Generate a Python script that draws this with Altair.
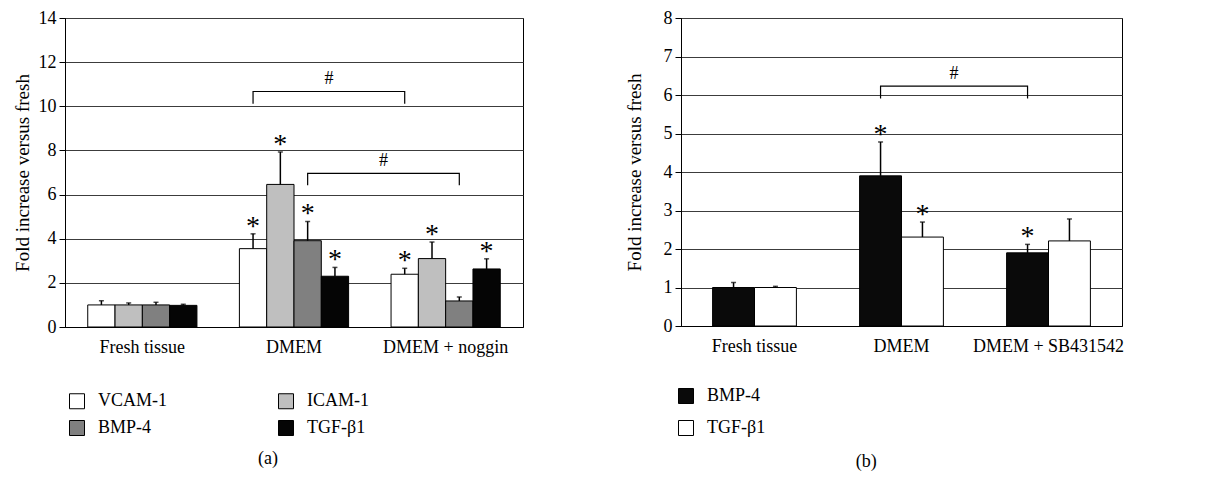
import altair as alt
import pandas as pd

FONT = "Liberation Serif"
YTITLE = "Fold increase versus fresh"

# ---------------- Panel (a) data ----------------
groups_a = ["Fresh tissue", "DMEM", "DMEM + noggin"]
markers_a = ["VCAM-1", "ICAM-1", "BMP-4", "TGF-β1"]
colors_a = ["#ffffff", "#bfbfbf", "#808080", "#050505"]
vcam_mean = [1.00, 3.55, 2.39]
vcam_err = [0.19, 0.67, 0.27]
vcam_sig = [False, True, True]
icam_mean = [1.00, 6.46, 3.10]
icam_err = [0.09, 1.47, 0.75]
icam_sig = [False, True, True]
bmp_mean_a = [1.00, 3.91, 1.18]
bmp_err_a = [0.12, 0.87, 0.18]
bmp_sig_a = [False, True, False]
tgf_mean_a = [0.98, 2.30, 2.63]
tgf_err_a = [0.05, 0.40, 0.46]
tgf_sig_a = [False, True, True]
yticks_a = [0, 2, 4, 6, 8, 10, 12, 14]
# brackets: (from group, from marker, to group, to marker, top, leg end)
brackets_a = [
    ("DMEM", "VCAM-1", "DMEM + noggin", "VCAM-1", 10.67, 10.12),
    ("DMEM", "BMP-4", "DMEM + noggin", "BMP-4", 6.96, 6.42),
]

# ---------------- Panel (b) data ----------------
groups_b = ["Fresh tissue", "DMEM", "DMEM + SB431542"]
markers_b = ["BMP-4", "TGF-β1"]
colors_b = ["#0a0a0a", "#ffffff"]
bmp_mean_b = [1.00, 3.90, 1.90]
bmp_err_b = [0.13, 0.88, 0.22]
bmp_sig_b = [False, True, True]
tgf_mean_b = [1.00, 2.31, 2.21]
tgf_err_b = [0.03, 0.39, 0.57]
tgf_sig_b = [False, True, False]
yticks_b = [0, 1, 2, 3, 4, 5, 6, 7, 8]
brackets_b = [
    ("DMEM", "BMP-4", "DMEM + SB431542", "BMP-4", 6.23, 5.91),
]


def make_df(groups, markers, means, errs, sigs):
    rows = []
    for m, mv, ev, sv in zip(markers, means, errs, sigs):
        for g, a, e, s in zip(groups, mv, ev, sv):
            rows.append({"group": g, "marker": m, "mean": a, "hi": a + e, "sig": s})
    return pd.DataFrame(rows)


def make_brackets(brs):
    pts, labels = [], []
    for i, (g1, m1, g2, m2, top, leg) in enumerate(brs):
        pts += [
            {"id": i, "k": 0, "group": g1, "marker": m1, "yv": leg},
            {"id": i, "k": 1, "group": g1, "marker": m1, "yv": top},
            {"id": i, "k": 2, "group": g2, "marker": m2, "yv": top},
            {"id": i, "k": 3, "group": g2, "marker": m2, "yv": leg},
        ]
        labels.append({"id": i, "group": g1, "marker": m1, "yv": top})
    return pd.DataFrame(pts), pd.DataFrame(labels)


def panel(df, brdf, brlab, groups, markers, colors, ymax, yticks, width, height,
          p_in, p_out, legend_cols, legend_dir, legend_x, legend_y, col_pad, row_pad,
          caption, cap_offset, cap_dx, title_pad):
    xscale = alt.Scale(domain=groups, paddingInner=p_in, paddingOuter=p_out)
    xaxis = alt.Axis(title=None, labelAngle=0, ticks=False, domainColor="black",
                     labelPadding=11, labelFont=FONT, labelFontSize=18,
                     labelColor="black")
    x = alt.X("group:N", scale=xscale, axis=xaxis)
    xo = alt.XOffset("marker:N", scale=alt.Scale(domain=markers, paddingInner=0, paddingOuter=0))
    yscale = alt.Scale(domain=[0, ymax], nice=False)
    yaxis = alt.Axis(values=yticks, tickCount=len(yticks) + 2, grid=True,
                     gridColor="#3c3c3c", gridWidth=1,
                     tickColor="black", tickSize=6, domainColor="black",
                     labelFont=FONT, labelFontSize=18, labelColor="black",
                     labelPadding=3, labelOverlap=False, titleFont=FONT,
                     titleFontSize=19, titleFontWeight="normal", titleColor="black",
                     titlePadding=title_pad, title=YTITLE)

    def Y(field):
        return alt.Y(field, scale=yscale, axis=yaxis)

    step = width / (len(groups) - p_in + 2 * p_out)

    base = alt.Chart(df)
    bars = base.mark_bar(stroke="black", strokeWidth=1).encode(
        x=x, xOffset=xo,
        y=Y("mean:Q"),
        fill=alt.Fill("marker:N", scale=alt.Scale(domain=markers, range=colors),
                      legend=alt.Legend(title=None, orient="none", legendX=legend_x,
                                        legendY=legend_y, columns=legend_cols,
                                        direction=legend_dir,
                                        columnPadding=col_pad, rowPadding=row_pad,
                                        symbolType="square", symbolSize=225,
                                        symbolStrokeColor="black", symbolStrokeWidth=1,
                                        labelFont=FONT, labelFontSize=18,
                                        labelColor="black", labelOffset=12,
                                        padding=0)),
    )
    err = base.mark_rule(color="black", strokeWidth=1.5).encode(
        x=x, xOffset=xo, y=Y("mean:Q"), y2="hi:Q")
    cap = base.mark_tick(color="black", orient="horizontal", size=5, thickness=1.5).encode(
        x=x, xOffset=xo, y=Y("hi:Q"))
    stars = base.transform_filter("datum.sig").mark_text(
        text="*", font=FONT, fontSize=28, color="black", baseline="alphabetic", dy=1).encode(
        x=x, xOffset=xo, y=Y("hi:Q"))
    br = alt.Chart(brdf).mark_line(color="black", strokeWidth=1.2).encode(
        x=x, xOffset=xo, y=Y("yv:Q"), detail="id:N", order="k:Q")
    brt = alt.Chart(brlab).mark_text(
        text="#", font=FONT, fontSize=18, color="black", baseline="bottom",
        dy=-3, dx=step / 2).encode(
        x=x, xOffset=xo, y=Y("yv:Q"))

    return alt.layer(bars, err, cap, stars, br, brt).properties(
        width=width, height=height,
        title=alt.TitleParams(caption, orient="bottom", anchor="middle", frame="bounds",
                              font=FONT, fontSize=18, fontWeight="normal",
                              color="black", offset=cap_offset, dx=cap_dx),
    )


df_a = make_df(groups_a, markers_a,
               [vcam_mean, icam_mean, bmp_mean_a, tgf_mean_a],
               [vcam_err, icam_err, bmp_err_a, tgf_err_a],
               [vcam_sig, icam_sig, bmp_sig_a, tgf_sig_a])
df_b = make_df(groups_b, markers_b,
               [bmp_mean_b, tgf_mean_b],
               [bmp_err_b, tgf_err_b],
               [bmp_sig_b, tgf_sig_b])
bra, bra_l = make_brackets(brackets_a)
brb, brb_l = make_brackets(brackets_b)

pa = panel(df_a, bra, bra_l, groups_a, markers_a, colors_a, 14, yticks_a,
           458, 309, 0.28, 0.15, 2, "horizontal", 3, 374, 108, 7, "(a)", 12, 0, 6)
pb = panel(df_b, brb, brb_l, groups_b, markers_b, colors_b, 8, yticks_b,
           441, 308, 0.43, 0.215, 1, "vertical", -4, 369, 10, 12, "(b)", 15, -8, 19)

chart = alt.hconcat(pa, pb, spacing=100).resolve_scale(
    x="independent", y="independent", xOffset="independent", fill="independent"
).resolve_legend(fill="independent").properties(
    padding={"left": 4, "top": 0, "right": 0, "bottom": 0}
).configure_view(stroke="black", strokeWidth=1).configure_axis(
    labelFont=FONT, titleFont=FONT, labelFontSize=18,
    labelColor="black", titleColor="black"
).configure_legend(labelFont=FONT, labelFontSize=18).configure_title(font=FONT)

chart.save("out.html", embed_options={"renderer": "svg", "actions": False})
